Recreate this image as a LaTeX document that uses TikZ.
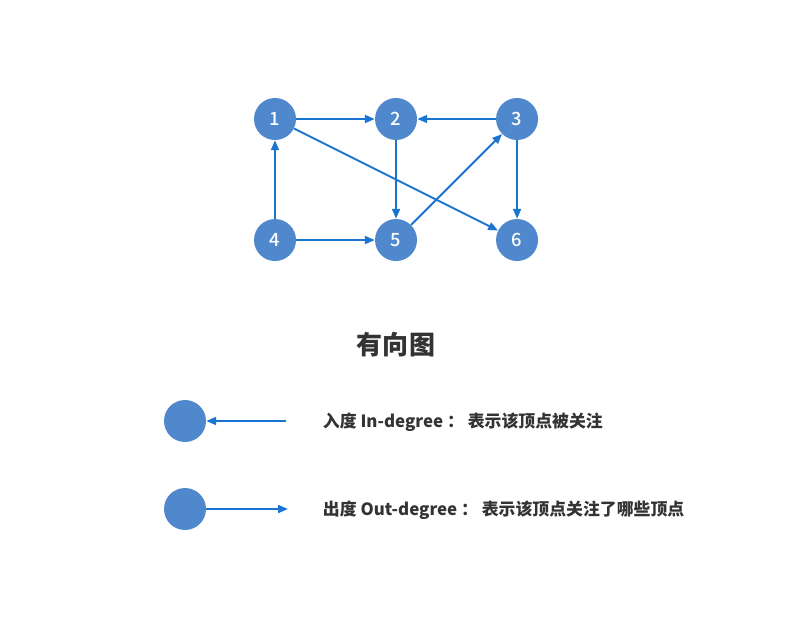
\documentclass[tikz,border=0pt]{standalone}
\usepackage{fontspec}
\setmainfont{Noto Sans CJK SC}
\newfontfamily\numfont{Noto Sans CJK SC Medium}
\usepackage{xcolor}
\usepackage{tikz}
\usetikzlibrary{arrows.meta, positioning}
\definecolor{vfill}{RGB}{79,136,204}
\definecolor{edgeblue}{RGB}{26,117,210}
\definecolor{txtgray}{RGB}{51,51,51}

\begin{document}
\begin{tikzpicture}[
        x=0.025cm, y=-0.025cm,
        node distance=3.025cm, on grid,
        vertex/.style={circle, fill=vfill, minimum size=1.05cm, inner sep=0pt,
            text=white, font=\numfont\fontsize{13}{15}\selectfont},
        legend/.style={anchor=west, text=txtgray,
            font=\bfseries\fontsize{12}{14}\selectfont},
        arr/.style={draw=edgeblue, line width=1.4pt,
            -{Triangle[length=7pt, width=5.6pt]}, fill=edgeblue}
    ]
    \useasboundingbox (0,0) rectangle (800,629);
    % graph
    \node (v1) [vertex] at (275,119) {1};
    \node (v2) [vertex, right=of v1] {2};
    \node (v3) [vertex, right=of v2] {3};
    \node (v4) [vertex, below=of v1] {4};
    \node (v5) [vertex, right=of v4] {5};
    \node (v6) [vertex, right=of v5] {6};
    \draw [arr] (v1) -- (v2);
    \draw [arr] (v3) -- (v2);
    \draw [arr] (v2) -- (v5);
    \draw [arr] (v4) -- (v1);
    \draw [arr] (v4) -- (v5);
    \draw [arr] (v5) -- (v3);
    \draw [arr] (v1) -- (v6);
    \draw [arr] (v3) -- (v6);
    % title
    \node (title) at (396,345) [text=txtgray,
        font=\bfseries\fontsize{18.5}{22}\selectfont] {有向图};
    % legend
    \node (inv)  [vertex] at (185,421) {};
    \node (outv) [vertex] at (185,509) {};
    \coordinate (inend)  at (286,421);
    \coordinate (outend) at (288,509);
    \draw [arr] (inend) -- (inv);
    \draw [arr] (outv) -- (outend);
    \node (intxt)  [legend] at (318,422) {入度 In-degree ： 表示该顶点被关注};
    \node (outtxt) [legend] at (318,510) {出度 Out-degree ： 表示该顶点关注了哪些顶点};
\end{tikzpicture}
\end{document}
